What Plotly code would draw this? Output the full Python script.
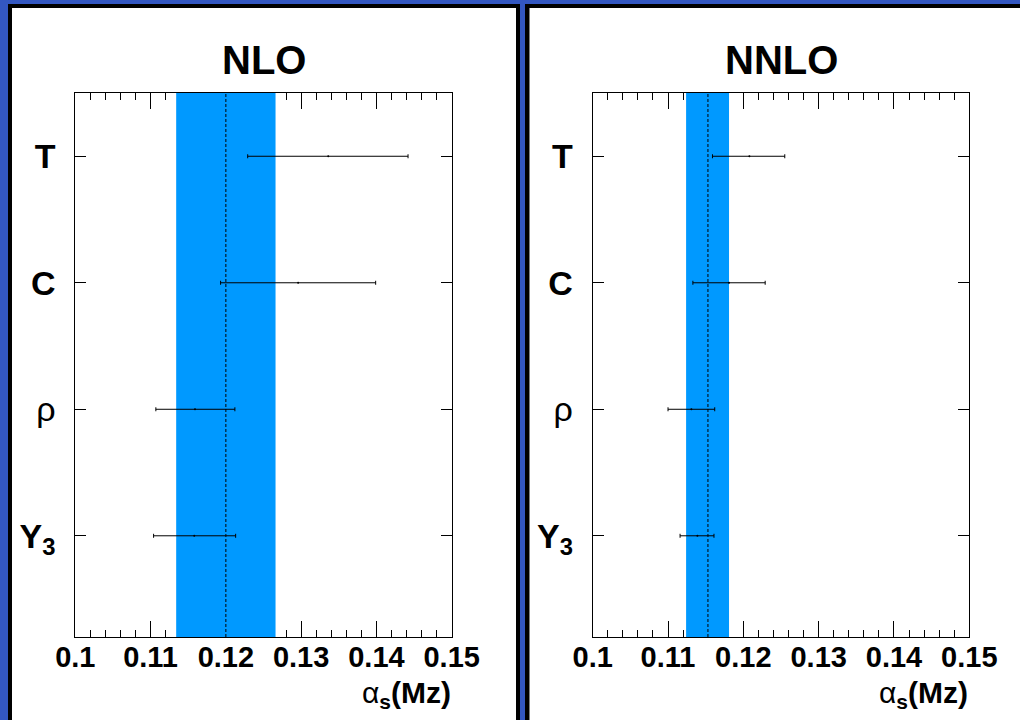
import plotly.graph_objects as go

W, H = 1020, 720

# ---------------- data ----------------
categories = ["T", "C", "ρ", "Y3"]
cat_labels = ["<b>T</b>", "<b>C</b>", "ρ", "<b>Y<sub>3</sub></b>"]
cat_pos = [4, 3, 2, 1]

x_ticks = [0.10, 0.11, 0.12, 0.13, 0.14, 0.15]
x_ticklabels = ["0.1", "0.11", "0.12", "0.13", "0.14", "0.15"]

panel_titles = ["NLO", "NNLO"]

# world-average-like band per panel
band_center = [0.1200, 0.1153]
band_low = [0.1134, 0.1124]
band_high = [0.1266, 0.1181]

# per-observable alpha_s values
nlo_center = [0.1336, 0.1296, 0.1159, 0.1158]
nlo_low = [0.1229, 0.1193, 0.1107, 0.1104]
nlo_high = [0.1442, 0.1399, 0.1212, 0.1213]

nnlo_center = [0.1208, 0.1181, 0.1131, 0.1139]
nnlo_low = [0.1159, 0.1133, 0.1100, 0.1116]
nnlo_high = [0.1255, 0.1229, 0.1162, 0.1161]

y_range = [0.2, 4.5]
x_range = [0.10, 0.15]

# ---------------- layout helpers ----------------
def fx(px):
    return px / W

def fy(py):
    return 1 - py / H

BLUE_BG = "#3357c1"
BAND = "#0099ff"
FONT = "Liberation Sans, Arial, Helvetica, sans-serif"

plot_left = [75.3, 592.7]
plot_right = [451.7, 969.3]
plot_top, plot_bottom = 93, 637

fig = go.Figure()

series = [
    (nlo_center, nlo_low, nlo_high),
    (nnlo_center, nnlo_low, nnlo_high),
]

for i in range(2):
    xa = "x" if i == 0 else "x2"
    ya = "y" if i == 0 else "y2"
    # band
    fig.add_trace(go.Scatter(
        x=[band_low[i], band_high[i], band_high[i], band_low[i], band_low[i]],
        y=[y_range[0], y_range[0], y_range[1], y_range[1], y_range[0]],
        fill="toself", fillcolor=BAND, line=dict(width=0), mode="lines",
        xaxis=xa, yaxis=ya, hoverinfo="skip", showlegend=False,
    ))
    # central dashed line
    fig.add_trace(go.Scatter(
        x=[band_center[i], band_center[i]], y=y_range,
        mode="lines", line=dict(color="black", width=1, dash="3px,2px"),
        xaxis=xa, yaxis=ya, hoverinfo="skip", showlegend=False,
    ))
    c, lo, hi = series[i]
    fig.add_trace(go.Scatter(
        x=c, y=cat_pos, mode="markers",
        marker=dict(color="black", size=2),
        error_x=dict(type="data", symmetric=False,
                     array=[h - v for h, v in zip(hi, c)],
                     arrayminus=[v - l for v, l in zip(c, lo)],
                     color="black", thickness=1, width=2),
        xaxis=xa, yaxis=ya, showlegend=False,
    ))

def xaxis_cfg(i):
    return dict(
        domain=[fx(plot_left[i]), fx(plot_right[i])],
        range=x_range, anchor="y" if i == 0 else "y2",
        showline=True, linecolor="black", linewidth=1, mirror="ticks",
        ticks="inside", ticklen=16, tickwidth=1, tickcolor="black",
        tickvals=x_ticks, ticktext=x_ticklabels,
        tickfont=dict(family=FONT, size=29, color="black", weight="bold"),
        minor=dict(dtick=0.002, tick0=0.1, ticks="inside", ticklen=7,
                   tickwidth=1, tickcolor="black", showgrid=False),
        showgrid=False, zeroline=False, layer="below traces",
        ticklabelstandoff=-6, automargin=False,
    )

def yaxis_cfg(i):
    return dict(
        domain=[fy(plot_bottom), fy(plot_top)],
        range=y_range, anchor="x" if i == 0 else "x2",
        showline=True, linecolor="black", linewidth=1, mirror="ticks",
        ticks="inside", ticklen=11, tickwidth=1, tickcolor="black",
        tickvals=cat_pos, ticktext=cat_labels,
        tickfont=dict(family=FONT, size=34, color="black"),
        showgrid=False, zeroline=False, layer="below traces",
        ticklabelstandoff=12, automargin=False,
    )

shapes = [
    # left panel
    dict(type="rect", xref="paper", yref="paper", x0=fx(8), x1=fx(520),
         y0=fy(740), y1=fy(4), fillcolor="black", line=dict(width=0), layer="below"),
    dict(type="rect", xref="paper", yref="paper", x0=fx(12), x1=fx(516),
         y0=fy(740), y1=fy(8), fillcolor="white", line=dict(width=0), layer="below"),
    # right panel
    dict(type="rect", xref="paper", yref="paper", x0=fx(525), x1=fx(1040),
         y0=fy(740), y1=fy(4), fillcolor="black", line=dict(width=0), layer="below"),
    dict(type="rect", xref="paper", yref="paper", x0=fx(529.5), x1=fx(1040),
         y0=fy(740), y1=fy(8), fillcolor="white", line=dict(width=0), layer="below"),
]

annotations = []
for i in range(2):
    annotations.append(dict(
        text="<b>%s</b>" % panel_titles[i], xref="paper", yref="paper",
        x=fx((plot_left[i] + plot_right[i]) / 2), y=fy(60),
        xanchor="center", yanchor="middle", showarrow=False,
        font=dict(family=FONT, size=40, color="black"),
    ))
    annotations.append(dict(
        text="α<sub><b>s</b></sub><b>(Mz)</b>", xref="paper", yref="paper",
        x=fx(plot_right[i] + 1), y=fy(674),
        xanchor="right", yanchor="top", showarrow=False,
        font=dict(family=FONT, size=30, color="black"),
    ))

fig.update_layout(
    width=W, height=H,
    margin=dict(l=0, r=0, t=0, b=0, autoexpand=False),
    paper_bgcolor=BLUE_BG, plot_bgcolor="white",
    xaxis=xaxis_cfg(0), xaxis2=xaxis_cfg(1),
    yaxis=yaxis_cfg(0), yaxis2=yaxis_cfg(1),
    shapes=shapes, annotations=annotations,
    showlegend=False,
)

fig.write_html("out.html")
